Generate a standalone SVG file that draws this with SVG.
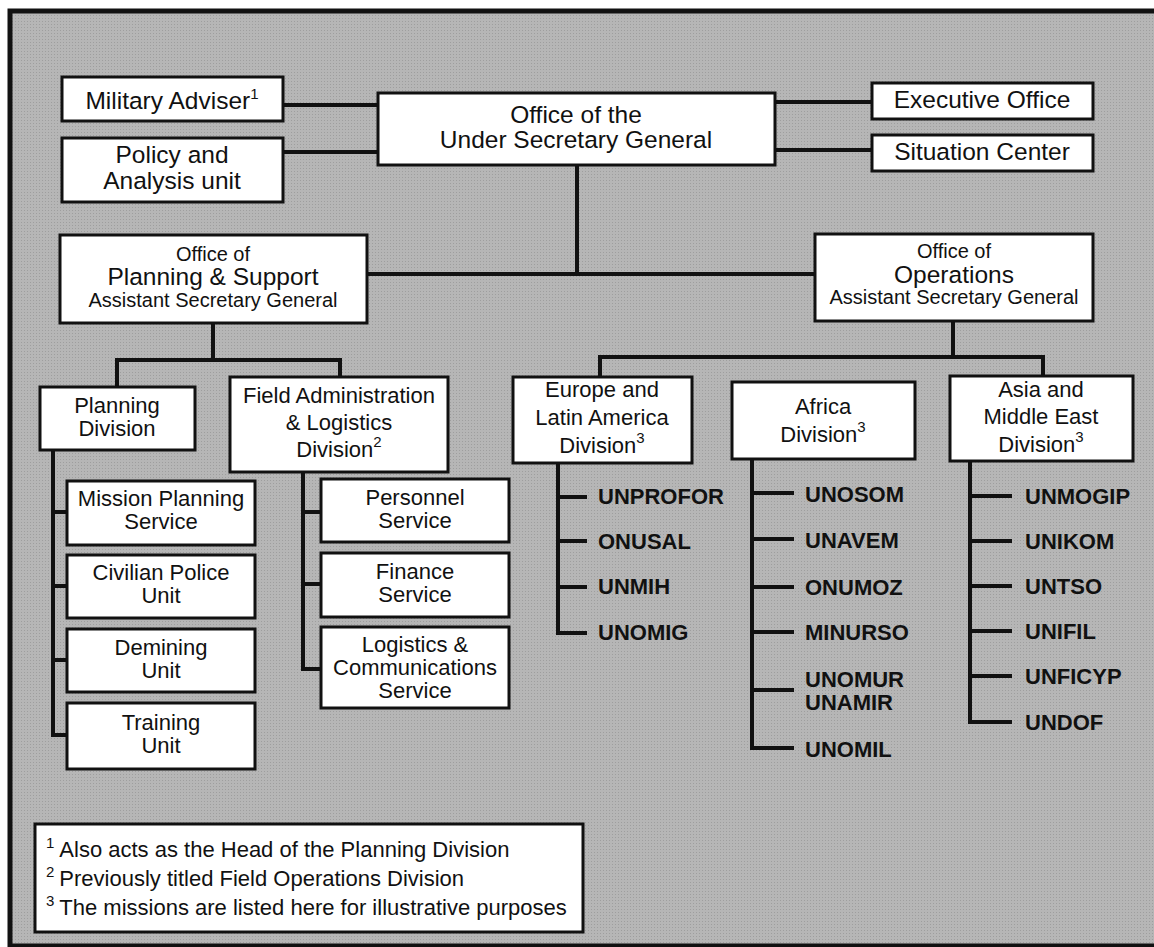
<svg xmlns="http://www.w3.org/2000/svg" width="1154" height="947" viewBox="0 0 1154 947">
<defs>
<style>
text{font-family:"Liberation Sans",Arial,Helvetica,sans-serif;fill:#111;text-anchor:middle}
.n rect{fill:#fff;stroke:#111;stroke-width:3}
.l{font-size:24.5px}
.m{font-size:22px}
.s{font-size:20px}
.sup{font-size:15px}
.ms{font-size:22px;font-weight:bold;text-anchor:start}
.fn{font-size:22px;text-anchor:start}
#connectors line,#connectors polyline{stroke:#111;stroke-width:4;fill:none;stroke-linecap:square}
</style>
<pattern id="dots" width="3" height="3" patternUnits="userSpaceOnUse">
<rect width="3" height="3" fill="#b6b6b6"/>
<rect width="1" height="1" fill="#9e9e9e"/>
</pattern>
</defs>
<rect x="0" y="0" width="1154" height="947" fill="#fff"/>
<rect x="10" y="11" width="1160" height="935" fill="url(#dots)" stroke="#111" stroke-width="5"/>

<g id="connectors">
<line x1="283" y1="105" x2="378" y2="105"/>
<line x1="283" y1="152" x2="378" y2="152"/>
<line x1="775" y1="102" x2="872" y2="102"/>
<line x1="775" y1="150" x2="872" y2="150"/>
<line x1="577" y1="165" x2="577" y2="274"/>
<line x1="367" y1="274" x2="815" y2="274"/>
<line x1="213" y1="323" x2="213" y2="360"/>
<polyline points="117,387 117,360 340,360 340,377"/>
<polyline points="53,450 53,735 67,735"/>
<line x1="53" y1="512" x2="67" y2="512"/>
<line x1="53" y1="586" x2="67" y2="586"/>
<line x1="53" y1="660" x2="67" y2="660"/>
<polyline points="303,472 303,669 321,669"/>
<line x1="303" y1="512" x2="321" y2="512"/>
<line x1="303" y1="584" x2="321" y2="584"/>
<line x1="953" y1="321" x2="953" y2="357"/>
<polyline points="600,377 600,357 1043,357 1043,376"/>
<polyline points="558,463 558,633 585,633"/>
<line x1="558" y1="497" x2="585" y2="497"/>
<line x1="558" y1="541" x2="585" y2="541"/>
<line x1="558" y1="587" x2="585" y2="587"/>
<polyline points="752,459 752,748 792,748"/>
<line x1="752" y1="493" x2="792" y2="493"/>
<line x1="752" y1="539" x2="792" y2="539"/>
<line x1="752" y1="587" x2="792" y2="587"/>
<line x1="752" y1="632" x2="792" y2="632"/>
<line x1="752" y1="690" x2="792" y2="690"/>
<polyline points="970,461 970,722 1010,722"/>
<line x1="970" y1="496" x2="1010" y2="496"/>
<line x1="970" y1="541" x2="1010" y2="541"/>
<line x1="970" y1="586" x2="1010" y2="586"/>
<line x1="970" y1="631" x2="1010" y2="631"/>
<line x1="970" y1="676" x2="1010" y2="676"/>
</g>

<g id="military-adviser" class="n"><rect x="62" y="77" width="221" height="44"/><text class="l" x="172" y="109">Military Adviser<tspan class="sup" dy="-10">1</tspan></text></g>
<g id="policy-analysis" class="n"><rect x="62" y="138" width="221" height="64"/><text class="l" x="172" y="163">Policy and</text><text class="l" x="172" y="189">Analysis unit</text></g>
<g id="usg" class="n"><rect x="378" y="93" width="397" height="72"/><text class="l" x="576" y="123">Office of the</text><text class="l" x="576" y="148">Under Secretary General</text></g>
<g id="executive-office" class="n"><rect x="872" y="83" width="221" height="36"/><text class="l" x="982" y="108">Executive Office</text></g>
<g id="situation-center" class="n"><rect x="872" y="135" width="221" height="36"/><text class="l" x="982" y="160">Situation Center</text></g>

<g id="planning-support" class="n"><rect x="60" y="235" width="307" height="88"/><text class="s" x="213" y="261">Office of</text><text class="l" x="213" y="285">Planning &amp; Support</text><text class="s" x="213" y="307">Assistant Secretary General</text></g>
<g id="operations" class="n"><rect x="815" y="234" width="278" height="87"/><text class="s" x="954" y="258">Office of</text><text class="l" x="954" y="283">Operations</text><text class="s" x="954" y="304">Assistant Secretary General</text></g>

<g id="planning-division" class="n"><rect x="40" y="387" width="155" height="63"/><text class="m" x="117" y="413">Planning</text><text class="m" x="117" y="436">Division</text></g>
<g id="field-admin" class="n"><rect x="230" y="377" width="218" height="95"/><text class="m" x="339" y="403">Field Administration</text><text class="m" x="339" y="430">&amp; Logistics</text><text class="m" x="339" y="457">Division<tspan class="sup" dy="-10">2</tspan></text></g>

<g id="mission-planning" class="n"><rect x="67" y="481" width="188" height="64"/><text class="m" x="161" y="506">Mission Planning</text><text class="m" x="161" y="529">Service</text></g>
<g id="civilian-police" class="n"><rect x="67" y="555" width="188" height="63"/><text class="m" x="161" y="580">Civilian Police</text><text class="m" x="161" y="603">Unit</text></g>
<g id="demining" class="n"><rect x="67" y="629" width="188" height="63"/><text class="m" x="161" y="655">Demining</text><text class="m" x="161" y="678">Unit</text></g>
<g id="training" class="n"><rect x="67" y="703" width="188" height="66"/><text class="m" x="161" y="730">Training</text><text class="m" x="161" y="753">Unit</text></g>

<g id="personnel" class="n"><rect x="321" y="479" width="188" height="63"/><text class="m" x="415" y="505">Personnel</text><text class="m" x="415" y="528">Service</text></g>
<g id="finance" class="n"><rect x="321" y="553" width="188" height="64"/><text class="m" x="415" y="579">Finance</text><text class="m" x="415" y="602">Service</text></g>
<g id="logistics-comms" class="n"><rect x="321" y="627" width="188" height="81"/><text class="m" x="415" y="652">Logistics &amp;</text><text class="m" x="415" y="675">Communications</text><text class="m" x="415" y="698">Service</text></g>

<g id="europe-latam" class="n"><rect x="513" y="377" width="179" height="86"/><text class="m" x="602" y="397">Europe and</text><text class="m" x="602" y="425">Latin America</text><text class="m" x="602" y="453">Division<tspan class="sup" dy="-10">3</tspan></text></g>
<g id="africa" class="n"><rect x="732" y="382" width="183" height="77"/><text class="m" x="823" y="414">Africa</text><text class="m" x="823" y="442">Division<tspan class="sup" dy="-10">3</tspan></text></g>
<g id="asia-me" class="n"><rect x="950" y="376" width="183" height="85"/><text class="m" x="1041" y="397">Asia and</text><text class="m" x="1041" y="424">Middle East</text><text class="m" x="1041" y="452">Division<tspan class="sup" dy="-10">3</tspan></text></g>

<g id="missions-europe">
<text class="ms" x="598" y="504">UNPROFOR</text>
<text class="ms" x="598" y="549">ONUSAL</text>
<text class="ms" x="598" y="594">UNMIH</text>
<text class="ms" x="598" y="640">UNOMIG</text>
</g>
<g id="missions-africa">
<text class="ms" x="805" y="502">UNOSOM</text>
<text class="ms" x="805" y="548">UNAVEM</text>
<text class="ms" x="805" y="595">ONUMOZ</text>
<text class="ms" x="805" y="640">MINURSO</text>
<text class="ms" x="805" y="687">UNOMUR</text>
<text class="ms" x="805" y="710">UNAMIR</text>
<text class="ms" x="805" y="757">UNOMIL</text>
</g>
<g id="missions-asia">
<text class="ms" x="1025" y="504">UNMOGIP</text>
<text class="ms" x="1025" y="549">UNIKOM</text>
<text class="ms" x="1025" y="594">UNTSO</text>
<text class="ms" x="1025" y="639">UNIFIL</text>
<text class="ms" x="1025" y="684">UNFICYP</text>
<text class="ms" x="1025" y="730">UNDOF</text>
</g>

<g id="footnotes" class="n"><rect x="35" y="824" width="548" height="108"/>
<text class="fn" x="46" y="857"><tspan class="sup" dy="-9">1</tspan><tspan dx="5" dy="9">Also acts as the Head of the Planning Division</tspan></text>
<text class="fn" x="46" y="886"><tspan class="sup" dy="-9">2</tspan><tspan dx="5" dy="9">Previously titled Field Operations Division</tspan></text>
<text class="fn" x="46" y="915"><tspan class="sup" dy="-9">3</tspan><tspan dx="5" dy="9">The missions are listed here for illustrative purposes</tspan></text>
</g>
</svg>
